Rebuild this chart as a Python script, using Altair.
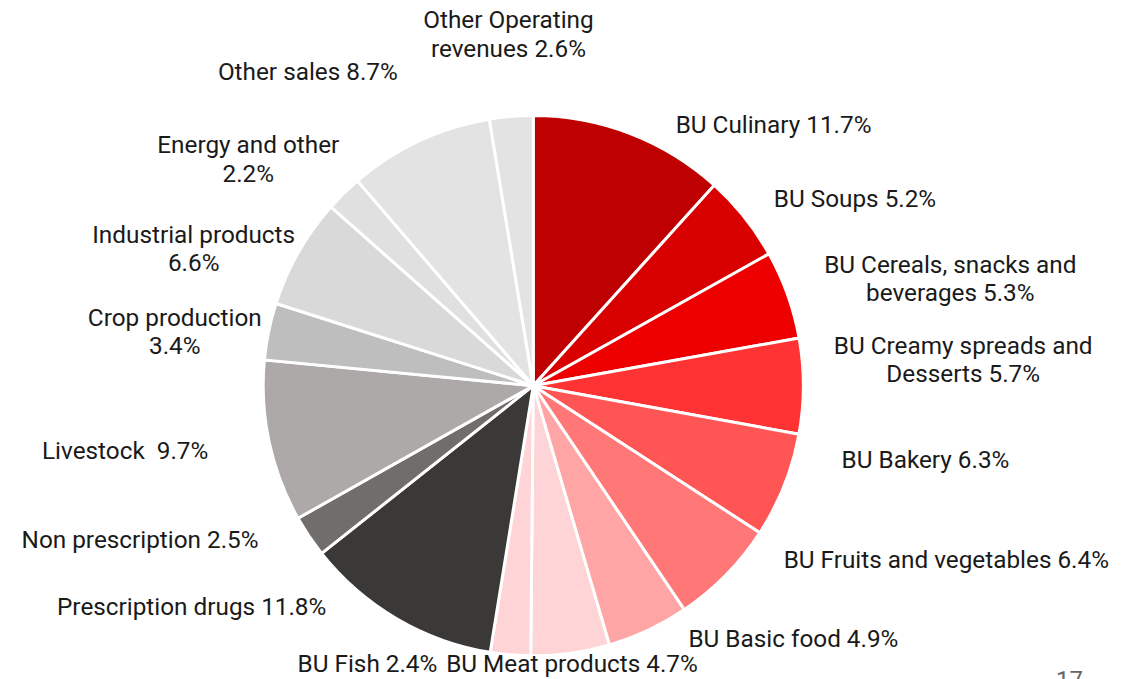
import altair as alt
import pandas as pd

# Slices, clockwise from 12 o'clock
names = [
    "BU Culinary", "BU Soups", "BU Cereals, snacks and beverages",
    "BU Creamy spreads and Desserts", "BU Bakery", "BU Fruits and vegetables",
    "BU Basic food", "BU Meat products", "BU Fish", "Prescription drugs",
    "Non prescription", "Livestock", "Crop production", "Industrial products",
    "Energy and other", "Other sales", "Other Operating revenues",
]
shares = [11.7, 5.2, 5.3, 5.7, 6.3, 6.4, 4.9, 4.7, 2.4, 11.8,
          2.5, 9.7, 3.4, 6.6, 2.2, 8.7, 2.6]
colors = [
    "#BE0000", "#D90000", "#EE0000", "#FF3333", "#FF5555", "#FF7777",
    "#FFA5A5", "#FFD4D6", "#FFD4D6", "#3A3937", "#716D6B", "#ADA9A8",
    "#BEBEBE", "#D9D9D9", "#E0E0E0", "#E3E3E3", "#E3E3E3",
]

# Label text (as shown in the figure)
label_texts = [
    "BU Culinary 11.7%", "BU Soups 5.2%", "BU Cereals, snacks and\nbeverages 5.3%",
    "BU Creamy spreads and\nDesserts 5.7%", "BU Bakery 6.3%",
    "BU Fruits and vegetables 6.4%", "BU Basic food 4.9%",
    "BU Meat products 4.7%", "BU Fish 2.4%", "Prescription drugs 11.8%",
    "Non prescription 2.5%", "Livestock\u00a0 9.7%", "Crop production\n3.4%",
    "Industrial products\n6.6%", "Energy and other\n2.2%", "Other sales 8.7%",
    "Other Operating\nrevenues 2.6%",
]
# Label anchor positions (pixels, layout only; y = first line centre)
label_x = [771, 853, 949, 962, 924, 945, 791, 568, 362, 185, 133, 118,
           168, 187, 242, 302, 504]
label_y = [117, 191, 257, 339, 454, 555, 634, 659, 659, 602, 534, 445,
           311, 227, 137, 63, 11]

pie_df = pd.DataFrame({"name": names, "share": shares, "idx": list(range(len(names)))})
lab_df = pd.DataFrame({"text": label_texts, "lx": label_x, "ly": label_y})

CX, CY, R = 529, 378, 272

pie = alt.Chart(pie_df).mark_arc(
    radius=R, stroke="white", strokeWidth=3
).encode(
    theta=alt.Theta("share:Q", stack=True),
    order=alt.Order("idx:Q"),
    color=alt.Color("name:N", scale=alt.Scale(domain=names, range=colors), legend=None),
    x=alt.value(CX),
    y=alt.value(CY),
)

labels = alt.Chart(lab_df).mark_text(
    font="Roboto", fontSize=24.5, color="#1a1a1a", align="center",
    baseline="middle", lineBreak="\n", lineHeight=28.5,
).encode(
    x=alt.X("lx:Q", scale=None, axis=None),
    y=alt.Y("ly:Q", scale=None, axis=None),
    text="text:N",
)

page_df = pd.DataFrame({"t": ["17"], "px": [1069], "py": [682]})
page = alt.Chart(page_df).mark_text(
    font="Roboto", fontSize=24, color="#666666", align="center", baseline="alphabetic"
).encode(
    x=alt.X("px:Q", scale=None, axis=None),
    y=alt.Y("py:Q", scale=None, axis=None),
    text="t:N",
)

chart = alt.layer(pie, labels, page).properties(
    width=1132, height=671,
    autosize=alt.AutoSizeParams(type="none"),
    padding=0,
).configure_view(stroke=None)

chart.save("out.html", embed_options={"renderer": "svg", "actions": False})
